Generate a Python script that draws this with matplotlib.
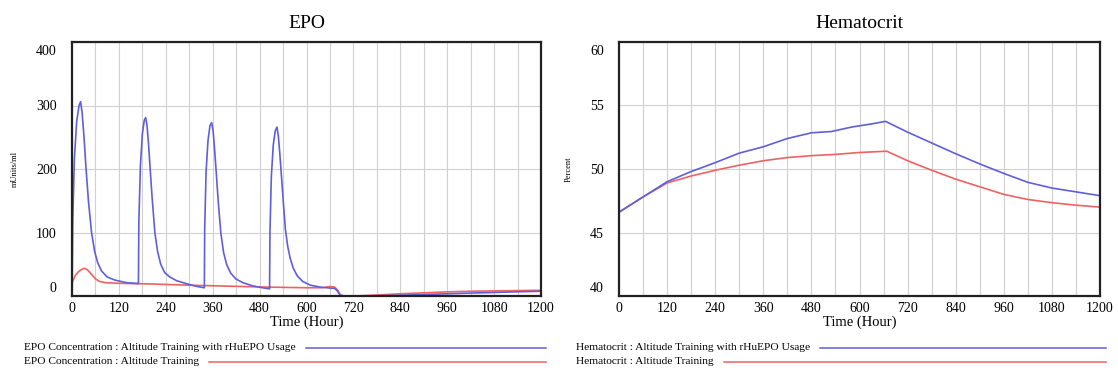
import matplotlib
matplotlib.use("Agg")
import matplotlib.pyplot as plt
from matplotlib.lines import Line2D
import matplotlib.transforms as mtransforms

# ---------------- data ----------------
time_ticks = [0, 120, 240, 360, 480, 600, 720, 840, 960, 1080, 1200]
epo_ticks_y = [0, 100, 200, 300, 400]
hct_ticks_y = [40, 45, 50, 55, 60]

epo_rhuepo_t = [0, 1, 2, 6, 12, 18, 22, 26, 31, 36, 42, 50, 58, 66, 76, 90, 110, 140, 169.5,
                170, 171, 175, 180, 185, 188.5, 192, 196, 200, 205, 212, 219, 227, 237, 250, 268, 295, 320, 338,
                338.6, 339.5, 343, 348, 353, 357.4, 361, 365, 369, 374, 381, 388, 396, 406, 419, 437, 462, 487, 505,
                505.5, 506.5, 510, 515, 520, 524.5, 528, 532, 536, 541, 546, 552, 558, 566, 576, 590, 610, 635, 660,
                672, 679, 686, 700, 720, 780, 840, 900, 960, 1020, 1080, 1140, 1200]
epo_rhuepo_v = [0, 60, 120, 215, 275, 300, 306, 288, 248, 200, 150, 100, 70, 52, 39, 30, 25, 21, 19.5,
                19.5, 115, 205, 255, 277, 281, 268, 238, 200, 155, 100, 70, 50, 37, 30, 24, 19, 15, 13,
                13, 105, 195, 245, 268, 273, 260, 230, 195, 150, 98, 68, 49, 36, 27, 21, 16, 13, 11.3,
                11.3, 100, 188, 238, 260, 266, 252, 222, 188, 145, 105, 78, 60, 44, 32, 23, 17, 14, 12.5,
                12, 8, 1, 0, 0, 0.3, 1.2, 2.3, 3.5, 4.6, 5.6, 6.6, 7.5]

epo_alt_t = [0, 1, 8, 18, 28, 33, 40, 50, 60, 70, 85, 120, 200, 300, 400, 500, 600, 640, 660, 672, 680, 686,
             695, 720, 780, 840, 900, 960, 1020, 1080, 1140, 1200]
epo_alt_v = [0, 22, 32, 39, 43, 43.5, 41, 34, 27, 23, 21, 20, 19, 17, 15.5, 14, 13, 13, 15, 14, 9, 2,
             0, 0, 1.5, 3.5, 5, 6.5, 7.5, 8, 8.5, 9]

hct_rhuepo_t = [0, 60, 120, 180, 240, 300, 360, 420, 480, 530, 580, 630, 665, 720, 780, 840, 900, 960,
                1020, 1080, 1140, 1200]
hct_rhuepo_v = [46.6, 47.8, 49.0, 49.8, 50.5, 51.25, 51.75, 52.4, 52.85, 52.95, 53.3, 53.55, 53.75, 52.9,
                52.05, 51.2, 50.4, 49.65, 48.95, 48.5, 48.2, 47.9]

hct_alt_t = [0, 60, 120, 180, 240, 300, 360, 420, 480, 540, 600, 668, 720, 780, 840, 900, 960, 1020,
             1080, 1140, 1200]
hct_alt_v = [46.6, 47.8, 48.9, 49.45, 49.9, 50.3, 50.65, 50.9, 51.05, 51.15, 51.3, 51.4, 50.65, 49.9,
             49.2, 48.6, 48.0, 47.6, 47.35, 47.15, 47.0]

legend_epo = ["EPO Concentration : Altitude Training with rHuEPO Usage",
              "EPO Concentration : Altitude Training"]
legend_hct = ["Hematocrit : Altitude Training with rHuEPO Usage",
              "Hematocrit : Altitude Training"]

BLUE = "#5f5fdc"
RED = "#ee6262"

plt.rcParams["font.family"] = ["Liberation Serif", "DejaVu Serif"]

W, H = 1118, 374
fig = plt.figure(figsize=(W / 100, H / 100), dpi=100)

def px_axes(x0, x1, y0, y1):
    return [x0 / W, 1 - y1 / H, (x1 - x0) / W, (y1 - y0) / H]

ax1 = fig.add_axes(px_axes(72, 541, 42, 296))
ax2 = fig.add_axes(px_axes(619, 1100, 42, 296))

def style(ax, yticks, ylabel, title):
    ax.set_xlim(0, 1200)
    ax.set_ylim(yticks[0], yticks[-1])
    ax.set_xticks(time_ticks)
    ax.set_xticks(range(0, 1201, 60), minor=True)
    ax.set_yticks(yticks)
    ax.grid(True, which="both", axis="x", color="#d0d0d0", lw=0.8)
    ax.grid(True, which="major", axis="y", color="#d0d0d0", lw=0.8)
    ax.tick_params(which="both", length=0)
    ax.tick_params(axis="x", labelsize=10, pad=4)
    ax.tick_params(axis="y", labelsize=10, pad=11)
    for s in ax.spines.values():
        s.set_linewidth(1.6)
        s.set_color("#222222")
    ax.set_xlabel("Time (Hour)", fontsize=10.5, labelpad=0.5)
    ax.set_ylabel(ylabel, fontsize=6, labelpad=12)
    ax.set_title(title, fontsize=14, pad=10)
    labels = ax.get_yticklabels()
    off_dn = mtransforms.ScaledTranslation(0, -8 / 100, fig.dpi_scale_trans)
    off_up = mtransforms.ScaledTranslation(0, 9 / 100, fig.dpi_scale_trans)
    labels[-1].set_transform(labels[-1].get_transform() + off_dn)
    labels[0].set_transform(labels[0].get_transform() + off_up)

ax1.plot(epo_alt_t, epo_alt_v, color=RED, lw=1.2)
ax1.plot(epo_rhuepo_t, epo_rhuepo_v, color=BLUE, lw=1.2)
style(ax1, epo_ticks_y, "mUnits/ml", "EPO")

ax2.plot(hct_alt_t, hct_alt_v, color=RED, lw=1.2)
ax2.plot(hct_rhuepo_t, hct_rhuepo_v, color=BLUE, lw=1.2)
style(ax2, hct_ticks_y, "Percent", "Hematocrit")

# legends (Vensim style)
fig.canvas.draw()
renderer = fig.canvas.get_renderer()

def legend(x_text, x_end, texts):
    ys = [348, 362]
    for txt, y, col in zip(texts, ys, [BLUE, RED]):
        t = fig.text(x_text / W, 1 - y / H, txt, fontsize=8.2, va="center", ha="left")
        bb = t.get_window_extent(renderer=renderer)
        x_start = bb.x1 + 10
        fig.add_artist(Line2D([x_start / W, x_end / W], [1 - y / H, 1 - y / H],
                              color=col, lw=1.1, transform=fig.transFigure))

legend(24, 546, legend_epo)
legend(576, 1106, legend_hct)

fig.savefig("out.png", dpi=100)
